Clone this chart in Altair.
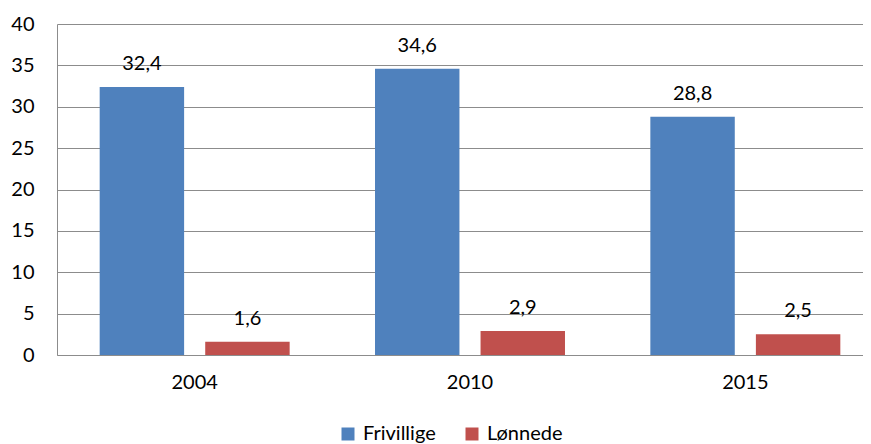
import altair as alt
import pandas as pd

years = ["2004", "2010", "2015"]
series = ["Frivillige", "Lønnede"]
frivillige = [32.4, 34.6, 28.8]
lonnede = [1.6, 2.9, 2.5]
y_ticks = [0, 5, 10, 15, 20, 25, 30, 35, 40]
colors = ["#4F81BD", "#C0504D"]

rows = []
for i, yr in enumerate(years):
    rows.append({"year": yr, "series": series[0], "value": frivillige[i]})
    rows.append({"year": yr, "series": series[1], "value": lonnede[i]})
df = pd.DataFrame(rows)

FONT = "Lato"
GRID = "#8C8C8C"

x_enc = alt.X("year:N", sort=years, title=None,
              scale=alt.Scale(range=[0, 826], paddingInner=0.31, paddingOuter=0.155),
              axis=alt.Axis(labelAngle=0, ticks=False, labelPadding=17, domainColor=GRID,
                            labelFontSize=20, labelFont=FONT, labelColor="#000000"))
xo_enc = alt.XOffset("series:N", sort=series,
                     scale=alt.Scale(paddingInner=0.2, paddingOuter=0))

base = alt.Chart(df)

bars = base.mark_bar().encode(
    x=x_enc,
    xOffset=xo_enc,
    y=alt.Y("value:Q", title=None,
            scale=alt.Scale(domain=[0, 40], nice=False),
            axis=alt.Axis(values=y_ticks, ticks=False, labelPadding=23, gridColor=GRID,
                          domainColor=GRID, labelFontSize=20, labelFont=FONT,
                          labelColor="#000000")),
    color=alt.Color("series:N", sort=series,
                    scale=alt.Scale(domain=series, range=colors),
                    legend=alt.Legend(title=None, orient="none", direction="horizontal",
                                      legendX=281, legendY=400, symbolType="square",
                                      symbolSize=169, symbolStrokeWidth=0,
                                      labelFontSize=20, labelFont=FONT, labelColor="#000000",
                                      labelOffset=5, columnPadding=26, padding=0)),
)

labels = base.transform_calculate(
    lbl="replace(format(datum.value, '.1f'), '.', ',')"
).mark_text(baseline="alphabetic", dy=-17, font=FONT, fontSize=20, color="#000000").encode(
    x=alt.X("year:N", sort=years),
    xOffset=alt.XOffset("series:N", sort=series),
    y=alt.Y("value:Q"),
    text="lbl:N",
)

chart = (bars + labels).properties(
    width=806, height=331,
    autosize=alt.AutoSizeParams(type="none"),
    padding={"left": 49, "top": 16, "right": 0, "bottom": 89},
).configure_view(stroke=None).configure_axis(gridWidth=1, domainWidth=1)

chart.save("out.html", embed_options={"renderer": "svg", "actions": False})
